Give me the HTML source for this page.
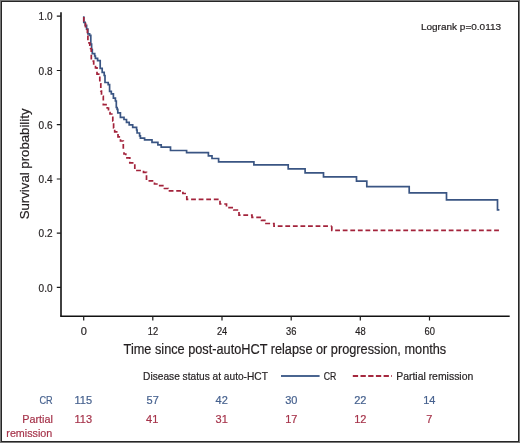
<!DOCTYPE html>
<html><head><meta charset="utf-8"><style>
html,body{margin:0;padding:0;background:#fff;}
body{width:520px;height:443px;overflow:hidden;position:relative;}
svg{position:absolute;left:0;top:0;display:block;will-change:transform;}
text{font-family:"Liberation Sans",sans-serif;stroke:currentColor;stroke-width:0.2;}
</style></head><body>
<svg width="520" height="443" viewBox="0 0 520 443">
<rect x="0" y="0" width="520" height="443" fill="#fff"/>
<!-- border -->
<rect x="0.5" y="0.5" width="519" height="442" fill="none" stroke="#777" stroke-width="1"/>
<rect x="1.5" y="1.5" width="517" height="440" fill="none" stroke="#262626" stroke-width="1"/>
<!-- axes -->
<g stroke="#1a1a1a" fill="none">
<path d="M61,12.2 V316.25" stroke-width="1.6" stroke="#111"/><path d="M60.2,316.25 H509.7" stroke-width="1.5" stroke="#111"/>
<path d="M56.8,16.2H61 M56.8,70.5H61 M56.8,124.7H61 M56.8,179H61 M56.8,233.2H61 M56.8,287.4H61" stroke-width="1.2"/>
<path d="M83.7,316V320.5 M152.8,316V320.5 M222,316V320.5 M291.2,316V320.5 M360.3,316V320.5 M429.5,316V320.5" stroke-width="1.2"/>
</g>
<g font-size="11" fill="#231f20" color="#231f20">
<text x="38.6" y="20.3" textLength="14" lengthAdjust="spacingAndGlyphs">1.0</text>
<text x="38.6" y="74.5" textLength="14" lengthAdjust="spacingAndGlyphs">0.8</text>
<text x="38.6" y="128.7" textLength="14" lengthAdjust="spacingAndGlyphs">0.6</text>
<text x="38.6" y="183" textLength="14" lengthAdjust="spacingAndGlyphs">0.4</text>
<text x="38.6" y="237.2" textLength="14" lengthAdjust="spacingAndGlyphs">0.2</text>
<text x="38.6" y="291.5" textLength="14" lengthAdjust="spacingAndGlyphs">0.0</text>
</g>
<g font-size="11" fill="#231f20" color="#231f20" text-anchor="middle">
<text x="83.7" y="335">0</text>
<text x="152.9" y="335" textLength="10.4" lengthAdjust="spacingAndGlyphs">12</text>
<text x="222.1" y="335" textLength="10.4" lengthAdjust="spacingAndGlyphs">24</text>
<text x="291.3" y="335" textLength="10.4" lengthAdjust="spacingAndGlyphs">36</text>
<text x="360.5" y="335" textLength="10.4" lengthAdjust="spacingAndGlyphs">48</text>
<text x="429.7" y="335" textLength="10.4" lengthAdjust="spacingAndGlyphs">60</text>
</g>
<text x="123.6" y="353.6" font-size="14" fill="#231f20" color="#231f20" textLength="322.6" lengthAdjust="spacingAndGlyphs">Time since post-autoHCT relapse or progression, months</text>
<text transform="translate(28.7,219.3) rotate(-90)" font-size="13.6" fill="#231f20" color="#231f20" textLength="110.8" lengthAdjust="spacingAndGlyphs">Survival probability</text>
<text x="420.9" y="29.9" font-size="9.7" fill="#231f20" color="#231f20" textLength="80.2" lengthAdjust="spacingAndGlyphs">Logrank p=0.0113</text>
<!-- legend -->
<text x="143.1" y="379.6" font-size="10.8" fill="#231f20" color="#231f20" textLength="124.8" lengthAdjust="spacingAndGlyphs">Disease status at auto-HCT</text>
<path d="M281,376H319.6" stroke="#4a6590" stroke-width="2"/>
<text x="323.7" y="379.6" font-size="10.8" fill="#231f20" color="#231f20" textLength="12.6" lengthAdjust="spacingAndGlyphs">CR</text>
<path d="M352.8,376H392" stroke="#a5283e" stroke-width="2" stroke-dasharray="5.3 2.4"/>
<text x="396.2" y="379.5" font-size="10.8" fill="#231f20" color="#231f20" textLength="77.1" lengthAdjust="spacingAndGlyphs">Partial remission</text>
<!-- risk table -->
<g font-size="11" fill="#46618e" color="#46618e">
<text x="39.4" y="404.3" textLength="13.2" lengthAdjust="spacingAndGlyphs">CR</text>
<g text-anchor="middle">
<text x="83.3" y="404.3">115</text>
<text x="152.7" y="404.3">57</text>
<text x="221.7" y="404.3">42</text>
<text x="291.3" y="404.3">30</text>
<text x="360.3" y="404.3">22</text>
<text x="429.3" y="404.3">14</text>
</g></g>
<g font-size="11" fill="#a6344b" color="#a6344b">
<text x="22.2" y="423.2" textLength="30.6" lengthAdjust="spacingAndGlyphs">Partial</text>
<text x="6.3" y="437" textLength="46" lengthAdjust="spacingAndGlyphs">remission</text>
<g text-anchor="middle">
<text x="83.3" y="423.2">113</text>
<text x="152.2" y="423.2">41</text>
<text x="221.7" y="423.2">31</text>
<text x="291.3" y="423.2">17</text>
<text x="360.3" y="423.2">12</text>
<text x="429.3" y="423.2">7</text>
</g></g>
<!-- curves -->
<path fill="none" stroke="#3a5583" stroke-width="1.7" stroke-linejoin="miter" d="M83.8,16.3 V22.3 H85.2 V25.3 H86.6 V29.2 H87.9 V33.8 H89.6 V35.4 H90.8 V44.2 H91.6 V49.6 H92.3 V53.7 H94.7 V56 H95.4 V58.3 H97.6 V60.6 H100.2 V68.3 H102.2 V72.4 H104.2 V75.5 H105 V82.5 H108.2 V84.6 H109.6 V91.3 H111.3 V93.8 H113.4 V98.2 H115.4 V101 H116.3 V107.5 H117.1 V109.3 H117.8 V112.8 H120.4 V117.3 H124 V119.5 H126.5 V122.4 H129.2 V124.8 H132.7 V127.4 H136.6 V130 H137.1 V133 H139.6 V135.8 H140.4 V138.2 H144.6 V139.9 H152 V142.4 H157.9 V144.9 H161.2 V147.2 H170.5 V150.5 H186.6 V152.6 H208.4 V155.8 H212 V158.5 H218.6 V161.8 H253.9 V164.8 H288.2 V168.9 H305.1 V172.8 H323.5 V176.9 H356.5 V181.2 H366.8 V186.6 H409.2 V192.8 H446.5 V199.9 H497.5 V209.8 H499.4"/>
<g fill="none" stroke="#a3233b" stroke-width="1.7" stroke-dasharray="4.8 2.77">
<path stroke-dashoffset="0" d="M83.8,16.9 V22.4 H85.5 V29.5 H87.4 V36 H87.9 V40.5 H89 V43 H89.8 V46 H90.6 V48.5 H91.3 V61.2 H93.7 V65.3 H95.5 V67.8 H97 V74.1 H99.8 V83.8 H100.8 V91 H101.5 V96.3 H103.3 V104.6 H107.2 V108 H108.5 V112.5 H110 V114 H112.8 V121 H113.6 V128 H114.7 V131.8 H118 V136.8 H120.5 V141 H123.3 V150 H124"/>
<path stroke-dashoffset="5.24" d="M124,150 V154 H125.8 V157.8 H129.8 V162.8 H134.8 V170.5 H143.5 V172.3 H146.5 V180.8 H154.5 V184 H158.8 V185.6 H163.8 V188.5"/>
<path stroke-dashoffset="0.3" d="M163.8,188.5 H168.2 V190.9 H182.9 V193.5 H186.8"/>
<path stroke-dashoffset="5.04" d="M186.8,193.5 V199.3 H220 V204 H226.5 V207.6 H233.8 V210 H239 V215.2 H252 V217.4 H261.5 V220.4 H266 V223.5 H272.5"/>
<path stroke-dashoffset="7.2" d="M272.5,223.5 H274 V226.2 H331.8"/>
<path stroke-dashoffset="0" d="M331.8,226.2 V230.4 H499.4"/>
</g>
</svg>
</body></html>
